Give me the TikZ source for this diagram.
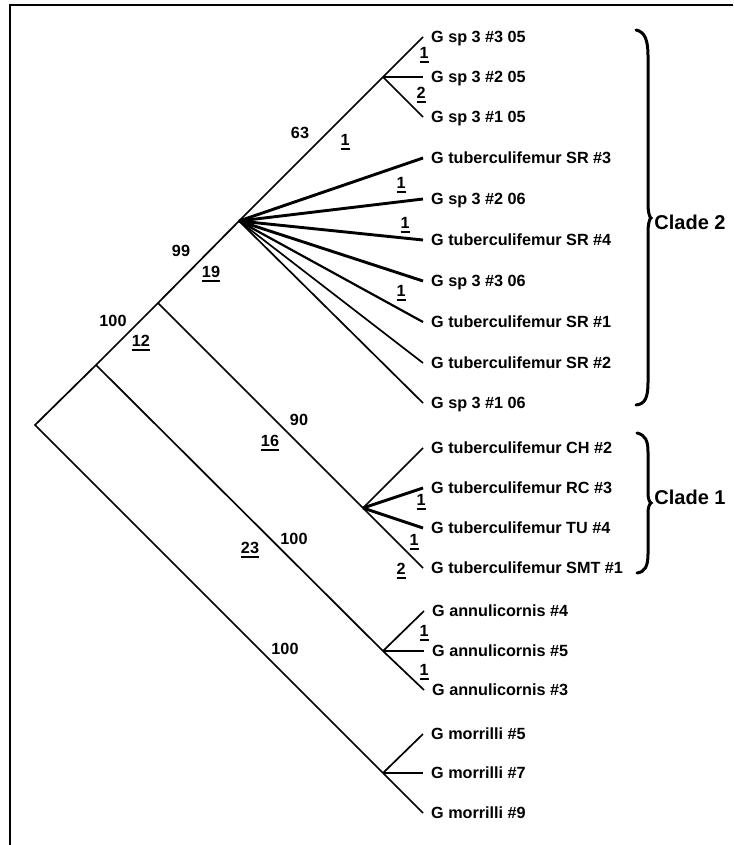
\documentclass[tikz,border=0pt]{standalone}
\usepackage{fontspec}
\setmainfont{Liberation Sans}
% step counts: number with a heavy rule under it
\newcommand\bstep[1]{\setbox0=\hbox{#1}\leavevmode\rlap{\rule[-4pt]{\wd0}{2pt}}\box0}
\begin{document}
\begin{tikzpicture}[x=1pt,y=-1pt,
  branch/.style={line width=1.7pt},
  midbranch/.style={line width=2.2pt},
  heavy/.style={line width=2.9pt},
  taxon/.style={anchor=west, inner xsep=8pt, inner ysep=0pt,
    text height=11.5pt, text depth=0pt, font=\fontsize{16.2}{19}\selectfont\bfseries},
  boot/.style={inner sep=0pt, text height=11.5pt, text depth=0pt,
    font=\fontsize{16.2}{19}\selectfont\bfseries},
  cladelab/.style={inner sep=0pt, font=\fontsize{20}{24}\selectfont\bfseries},
  bracket/.style={line width=3pt, line cap=round}]
\useasboundingbox (0,0) rectangle (733,845);

% frame (top and left edges)
\draw[line width=2pt] (733,5) -- (10,5) -- (10,845);

% internal nodes
\coordinate (R) at (35,425);
\coordinate (A) at (96,365);
\coordinate (B) at (158,303);
\coordinate (C) at (239,221);
\coordinate (D) at (383,77);
\coordinate (E) at (363,508);
\coordinate (F) at (383,651);
\coordinate (G) at (383,773);

% taxa
\node[taxon] (s3a) at (423,37)  {G sp 3 \#3 05};
\node[taxon] (s2a) at (423,77)  {G sp 3 \#2 05};
\node[taxon] (s1a) at (423,117) {G sp 3 \#1 05};
\node[taxon] (t3)  at (423,158) {G tuberculifemur SR \#3};
\node[taxon] (s2b) at (423,199) {G sp 3 \#2 06};
\node[taxon] (t4)  at (423,240) {G tuberculifemur SR \#4};
\node[taxon] (s3b) at (423,281) {G sp 3 \#3 06};
\node[taxon] (t1)  at (423,322) {G tuberculifemur SR \#1};
\node[taxon] (t2)  at (423,363) {G tuberculifemur SR \#2};
\node[taxon] (s1b) at (423,403) {G sp 3 \#1 06};
\node[taxon] (ch)  at (423,448) {G tuberculifemur CH \#2};
\node[taxon] (rc)  at (423,488) {G tuberculifemur RC \#3};
\node[taxon] (tu)  at (423,528) {G tuberculifemur TU \#4};
\node[taxon] (smt) at (423,568) {G tuberculifemur SMT \#1};
\node[taxon] (an4) at (424,611) {G annulicornis \#4};
\node[taxon] (an5) at (424,651) {G annulicornis \#5};
\node[taxon] (an3) at (424,690) {G annulicornis \#3};
\node[taxon] (mo5) at (423,734) {G morrilli \#5};
\node[taxon] (mo7) at (423,773) {G morrilli \#7};
\node[taxon] (mo9) at (423,813) {G morrilli \#9};

% backbone
\draw[branch] (G) -- (R) -- (A) -- (B) -- (C) -- (D);
\draw[branch] (A) -- (F);
\draw[branch] (B) -- (E);

% terminal branches
\draw[branch] (D) -- (s3a.west);
\draw[heavy]  (D) -- (s2a.west);
\draw[branch] (D) -- (s1a.west);
\draw[heavy]  (C) -- (t3.west);
\draw[heavy]  (C) -- (s2b.west);
\draw[heavy]  (C) -- (t4.west);
\draw[heavy]  (C) -- (s3b.west);
\draw[midbranch] (C) -- (t1.west);
\draw[branch] (C) -- (t2.west);
\draw[branch] (C) -- (s1b.west);
\draw[branch] (E) -- (ch.west);
\draw[heavy]  (E) -- (rc.west);
\draw[heavy]  (E) -- (tu.west);
\draw[branch] (E) -- (smt.west);
\draw[branch] (F) -- (an4.west);
\draw[heavy]  (F) -- (an5.west);
\draw[branch] (F) -- (an3.west);
\draw[branch] (G) -- (mo5.west);
\draw[heavy]  (G) -- (mo7.west);
\draw[branch] (G) -- (mo9.west);

% bootstrap support
\node[boot] (b63)  at (300,133) {63};
\node[boot] (b99)  at (181,251) {99};
\node[boot] (b100a) at (113,321) {100};
\node[boot] (b90)  at (299,420) {90};
\node[boot] (b100b) at (294,539) {100};
\node[boot] (b100c) at (285,649) {100};

% branch lengths (steps)
\node[boot] (l1)  at (424,53)  {\bstep{1}};
\node[boot] (l2)  at (421,93)  {\bstep{2}};
\node[boot] (l3)  at (345,140) {\bstep{1}};
\node[boot] (l4)  at (401,183) {\bstep{1}};
\node[boot] (l5)  at (405,223) {\bstep{1}};
\node[boot] (l6)  at (401,291) {\bstep{1}};
\node[boot] (l7)  at (211,272) {\bstep{19}};
\node[boot] (l8)  at (141,341) {\bstep{12}};
\node[boot] (l9)  at (270,441) {\bstep{16}};
\node[boot] (l10) at (250,548) {\bstep{23}};
\node[boot] (l11) at (421,500) {\bstep{1}};
\node[boot] (l12) at (414,540) {\bstep{1}};
\node[boot] (l13) at (401,569) {\bstep{2}};
\node[boot] (l14) at (424,631) {\bstep{1}};
\node[boot] (l15) at (424,670) {\bstep{1}};

% clade brackets
\draw[bracket] (636,30) .. controls (645,32) and (648,40) .. (648,56)
  -- (648,204) .. controls (648,213) and (650,218) .. (651,218)
  .. controls (650,218) and (648,223) .. (648,232)
  -- (648,382) .. controls (648,398) and (645,404) .. (636,405);
\node[cladelab] (c2) at (690,222) {Clade 2};

\draw[bracket] (637,433) .. controls (645,435) and (648,440) .. (648,452)
  -- (648,494) .. controls (648,499) and (650,503) .. (651,503)
  .. controls (650,503) and (648,507) .. (648,512)
  -- (648,554) .. controls (648,566) and (645,572) .. (637,573);
\node[cladelab] (c1) at (690,497) {Clade 1};
\end{tikzpicture}
\end{document}
